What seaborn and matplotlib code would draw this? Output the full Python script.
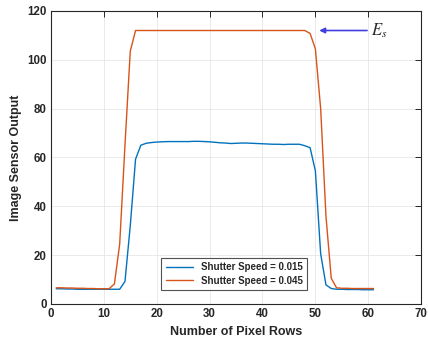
import numpy as np
import pandas as pd
import seaborn as sns
import matplotlib.pyplot as plt

# pixel rows 1..61
rows = list(range(1, 62))

# shutter speed 0.015
slow = [6.2, 6.2, 6.1, 6.1, 6.0, 6.0, 6.0, 6.0, 6.0, 6.0, 6.0, 6.0, 6.0,
        9.2, 32.0, 59.3, 65.0, 65.8, 66.1, 66.3, 66.4, 66.5, 66.5, 66.5, 66.5,
        66.5, 66.6, 66.6, 66.5, 66.4, 66.2, 66.0, 65.9, 65.7, 65.8, 65.9, 65.9,
        65.8, 65.7, 65.6, 65.5, 65.4, 65.4, 65.3, 65.4, 65.4, 65.4, 64.8, 64.0,
        54.5, 20.5, 7.8, 6.3, 6.0, 6.0, 5.9, 5.9, 5.9, 5.8, 5.8, 5.8]

# shutter speed 0.045
fast = [6.6, 6.6, 6.5, 6.5, 6.4, 6.4, 6.3, 6.3, 6.2, 6.2, 6.2, 8.2, 24.5,
        65.0, 103.5, 112.0, 112.0, 112.0, 112.0, 112.0, 112.0, 112.0, 112.0,
        112.0, 112.0, 112.0, 112.0, 112.0, 112.0, 112.0, 112.0, 112.0, 112.0,
        112.0, 112.0, 112.0, 112.0, 112.0, 112.0, 112.0, 112.0, 112.0, 112.0,
        112.0, 112.0, 112.0, 112.0, 112.0, 110.8, 104.5, 80.0, 36.0, 10.5,
        6.6, 6.4, 6.4, 6.3, 6.3, 6.3, 6.3, 6.3]

labels = ["Shutter Speed = 0.015", "Shutter Speed = 0.045"]

df = pd.DataFrame({"row": rows * 2,
                   "value": slow + fast,
                   "speed": [labels[0]] * len(rows) + [labels[1]] * len(rows)})

sns.set_style("whitegrid")
plt.rcParams['font.family'] = ['Liberation Sans', 'DejaVu Sans']
plt.rcParams['mathtext.fontset'] = 'stix'

fig = plt.figure(figsize=(4.28, 3.43), dpi=100)
ax = fig.add_axes([0.119, 0.114, 0.865, 0.854])

sns.lineplot(data=df, x="row", y="value", hue="speed",
             palette=["#0072BD", "#D95319"], linewidth=1.0, ax=ax)

ax.set_xlim(0, 70)
ax.set_ylim(0, 120)
ax.set_xticks(range(0, 71, 10))
ax.set_yticks(range(0, 121, 20))
ax.grid(True, color="#e6e6e6", linewidth=0.6)
for s in ax.spines.values():
    s.set_color("#262626")
    s.set_linewidth(0.8)
ax.tick_params(direction="in", length=4, width=0.7, top=True, right=True,
               labelsize=8.3, colors="#262626", pad=3)
for t in ax.get_xticklabels() + ax.get_yticklabels():
    t.set_fontweight("bold")

ax.set_xlabel("Number of Pixel Rows", fontsize=9, fontweight="bold", color="#262626")
ax.set_ylabel("Image Sensor Output", fontsize=9, fontweight="bold", color="#262626")

leg = ax.legend(loc="lower left", bbox_to_anchor=(0.285, 0.03),
                prop={"weight": "bold", "size": 7}, handlelength=2.8,
                frameon=True, fancybox=False, borderpad=0.45, labelspacing=0.35)
leg.get_frame().set_edgecolor("#262626")
leg.get_frame().set_linewidth(0.8)

ax.annotate("", xy=(50.2, 112), xytext=(60.3, 112),
            arrowprops=dict(arrowstyle="-|>", color="#4040e0", lw=1.2,
                            mutation_scale=8))
ax.text(60.6, 112, r"$E_s$", fontsize=12, va="center", ha="left")

fig.savefig("out.png", dpi=100)
